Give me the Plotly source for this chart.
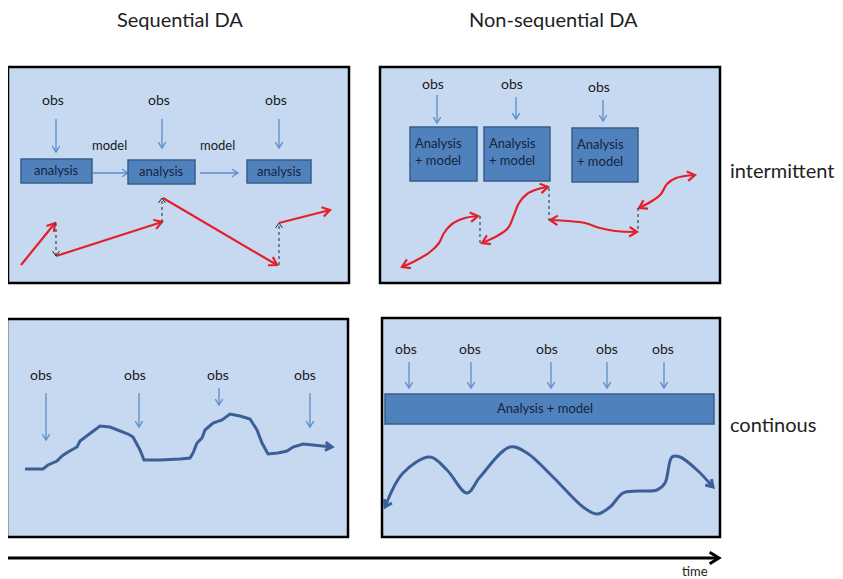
import plotly.graph_objects as go
import math

# ---------------- data (diagram coordinates, pixel space) ----------------
titles = ["Sequential DA", "Non-sequential DA"]
title_x = [180, 553]
row_labels = ["intermittent", "continous"]
row_label_y = [170, 424]

panels = [(8, 67, 349, 283), (380, 67, 720, 283), (7, 319, 348, 537), (382, 318, 720, 537)]

# panel 1 (sequential, intermittent)
p1_obs_x = [56, 162, 279]
p1_obs_text_y = 99
p1_obs_arrow = [(119, 152), (119, 148), (119, 148)]
p1_model_x = [109, 217]
p1_boxes = [(21, 159, 92, 183), (128, 160, 195, 184), (247, 160, 311, 183)]
p1_model_arrows = [(93, 128), (200, 238)]
p1_red = [((21, 265), (55, 223)), ((56, 256), (162, 222)), ((163, 198), (277, 265)), ((279, 223), (330, 210))]
p1_dash = [((56, 223), (56, 256)), ((162, 222), (162, 198)), ((279, 265), (279, 223))]

# panel 2 (non-sequential, intermittent)
p2_obs_x = [437, 516, 603]
p2_obs_text_y = [83, 83, 86]
p2_obs_arrow = [(95, 123), (97, 119), (100, 121)]
p2_boxes = [(410, 127, 477, 181), (484, 127, 550, 181), (572, 128, 638, 182)]
p2_curves_x = [
    [402, 415, 430, 439, 444, 452, 465, 478],
    [482, 497, 508, 514, 519, 527, 538, 548],
    [550, 568, 585, 600, 615, 637],
    [639, 652, 661, 667, 676, 695],
]
p2_curves_y = [
    [267, 261, 252, 243, 233, 224, 218, 216],
    [243, 236, 228, 215, 203, 194, 189, 187],
    [220, 221, 223, 228, 231, 232],
    [208, 201, 194, 184, 178, 175],
]
p2_dash_x = [480, 549, 638]
p2_dash_y = [(216, 243), (188, 220), (208, 232)]

# panel 3 (sequential, continuous)
p3_obs_x = [46, 139, 219, 310]
p3_obs_text_x = [41, 135, 218, 305]
p3_obs_arrow = [(393, 440), (393, 427), (388, 405), (393, 427)]
p3_obs_text_y = 374
p3_x = [25, 43, 48, 57, 62, 68, 77, 80, 88, 100, 110, 120, 128, 133, 136, 140, 144, 160, 180, 190,
        193, 197, 202, 205, 213, 222, 230, 240, 250, 257, 262, 268, 278, 287, 293, 303, 313, 323, 332]
p3_y = [469, 469, 465, 461, 456, 452, 447, 441, 435, 426, 427, 431, 434, 437, 443, 450, 460, 460, 459, 458,
        453, 443, 438, 430, 423, 420, 414, 416, 419, 430, 443, 454, 453, 451, 447, 444, 445, 446, 447]

# panel 4 (non-sequential, continuous)
p4_obs_x = [409, 471, 551, 607, 664]
p4_obs_text_x = [406, 470, 547, 607, 663]
p4_obs_text_y = 348
p4_obs_arrow = (362, 388)
p4_bar = (385, 394, 714, 424)
p4_x = [385, 403, 430, 447, 467, 480, 510, 527, 553, 583, 597, 610, 623, 637, 657, 665, 672, 680, 697, 713]
p4_y = [507, 473, 457, 470, 493, 477, 447, 453, 477, 507, 514, 507, 493, 491, 490, 483, 457, 457, 470, 487]

time_arrow = ((8, 558), (719, 558))

# ---------------- styles ----------------
FONT = "Lato, 'Open Sans', sans-serif"
BG = "#c6d9f1"
BOX = "#4f81bd"
BOX_LINE = "#385d8a"
OBS = "#5b8cc8"
RED = "#e3202a"
CURVE = "#3b6095"
TXT = "#1a1a1a"
BOXTXT = "#17243d"
DASH = "#222222"

fig = go.Figure()
shapes = []
ann = []

# polyline buckets: key -> (xs, ys)
buckets = {}


def add_line(key, xs, ys):
    bx, by = buckets.setdefault(key, ([], []))
    bx.extend(list(xs) + [None])
    by.extend(list(ys) + [None])


def chevron(key, xa, ya, xb, yb, length=8, angle=32):
    d = math.hypot(xb - xa, yb - ya)
    ux, uy = (xb - xa) / d, (yb - ya) / d
    a = math.radians(angle)
    pts = []
    for s in (1, -1):
        rx = ux * math.cos(s * a) - uy * math.sin(s * a)
        ry = ux * math.sin(s * a) + uy * math.cos(s * a)
        pts.append((xb - length * rx, yb - length * ry))
    add_line(key, [pts[0][0], xb, pts[1][0]], [pts[0][1], yb, pts[1][1]])


def straight_arrow(key, x0, y0, x1, y1, length=8):
    add_line(key, [x0, x1], [y0, y1])
    chevron(key, x0, y0, x1, y1, length)


def text(x, y, s, size, color=TXT, xanchor="center", align="center"):
    ann.append(dict(x=x, y=y, xref="x", yref="y", text=s, showarrow=False, xanchor=xanchor,
                    yanchor="middle", align=align, font=dict(family=FONT, size=size, color=color)))


# panels
for (x0, y0, x1, y1) in panels:
    shapes.append(dict(type="rect", x0=x0, y0=y0, x1=x1, y1=y1, xref="x", yref="y",
                       fillcolor=BG, line=dict(color="black", width=2.5), layer="below"))

# titles and row labels
for t, x in zip(titles, title_x):
    text(x, 19, t, 20, "#222222")
for t, y in zip(row_labels, row_label_y):
    text(728, y, t, 20, "#222222", xanchor="left")

# panel 1
for x, (ya, yb) in zip(p1_obs_x, p1_obs_arrow):
    text(x - 3, p1_obs_text_y, "obs", 14)
    straight_arrow("obs", x, ya, x, yb, 7)
for x in p1_model_x:
    text(x, 145, "model", 13)
for (x0, y0, x1, y1) in p1_boxes:
    shapes.append(dict(type="rect", x0=x0, y0=y0, x1=x1, y1=y1, xref="x", yref="y",
                       fillcolor=BOX, line=dict(color=BOX_LINE, width=1.5)))
    text((x0 + x1) / 2, (y0 + y1) / 2 - 1, "analysis", 13, BOXTXT)
for (xa, xb) in p1_model_arrows:
    straight_arrow("obs", xa, 173, xb, 173, 7)
for (xa, ya), (xb, yb) in p1_dash:
    shapes.append(dict(type="line", x0=xa, y0=ya, x1=xb, y1=yb, xref="x", yref="y",
                       line=dict(color=DASH, width=1, dash="dot")))
    chevron("dash", xa, ya, xb, yb, 6, 35)
for (xa, ya), (xb, yb) in p1_red:
    straight_arrow("red", xa, ya, xb, yb, 9)

# panel 2
for x, ty, (ya, yb) in zip(p2_obs_x, p2_obs_text_y, p2_obs_arrow):
    text(x - 4, ty, "obs", 14)
    straight_arrow("obs", x, ya, x, yb, 7)
for (x0, y0, x1, y1) in p2_boxes:
    shapes.append(dict(type="rect", x0=x0, y0=y0, x1=x1, y1=y1, xref="x", yref="y",
                       fillcolor=BOX, line=dict(color=BOX_LINE, width=1.5)))
    text(x0 + 3, y0 + 24, "Analysis<br>+ model", 13, BOXTXT, xanchor="left", align="left")
for x, (ya, yb) in zip(p2_dash_x, p2_dash_y):
    shapes.append(dict(type="line", x0=x, y0=ya, x1=x, y1=yb, xref="x", yref="y",
                       line=dict(color=DASH, width=1, dash="dot")))
for xs, ys in zip(p2_curves_x, p2_curves_y):
    fig.add_trace(go.Scatter(x=xs, y=ys, mode="lines", line=dict(color=RED, width=2.2, shape="spline"),
                             hoverinfo="skip", showlegend=False))
    chevron("red", xs[-2], ys[-2], xs[-1], ys[-1], 9)
    chevron("red", xs[1], ys[1], xs[0], ys[0], 9)

# panel 3
for x, tx, (ya, yb) in zip(p3_obs_x, p3_obs_text_x, p3_obs_arrow):
    text(tx, p3_obs_text_y, "obs", 14)
    straight_arrow("obs", x, ya, x, yb, 7)
fig.add_trace(go.Scatter(x=p3_x, y=p3_y, mode="lines", line=dict(color=CURVE, width=3),
                         hoverinfo="skip", showlegend=False))
chevron("curve", p3_x[-3], p3_y[-3], p3_x[-1], p3_y[-1], 8)

# panel 4
for x, tx in zip(p4_obs_x, p4_obs_text_x):
    text(tx, p4_obs_text_y, "obs", 14)
    straight_arrow("obs", x, p4_obs_arrow[0], x, p4_obs_arrow[1], 7)
bx0, by0, bx1, by1 = p4_bar
shapes.append(dict(type="rect", x0=bx0, y0=by0, x1=bx1, y1=by1, xref="x", yref="y",
                   fillcolor=BOX, line=dict(color=BOX_LINE, width=1.5)))
text(545, 408, "Analysis + model", 13, BOXTXT)
fig.add_trace(go.Scatter(x=p4_x, y=p4_y, mode="lines", line=dict(color=CURVE, width=3, shape="spline"),
                         hoverinfo="skip", showlegend=False))
chevron("curve", p4_x[-2], p4_y[-2], p4_x[-1], p4_y[-1], 8)
chevron("curve", p4_x[1], p4_y[1], p4_x[0], p4_y[0], 8)

# time arrow
(tx0, ty0), (tx1, ty1) = time_arrow
straight_arrow("time", tx0, ty0, tx1, ty1, 11)
text(695, 571, "time", 13)

styles = {"obs": (OBS, 1.3), "red": (RED, 2.2), "dash": (DASH, 1.0), "curve": (CURVE, 3), "time": ("black", 3)}
for key, (xs, ys) in buckets.items():
    col, w = styles[key]
    fig.add_trace(go.Scatter(x=xs, y=ys, mode="lines", line=dict(color=col, width=w),
                             hoverinfo="skip", showlegend=False, connectgaps=False))

# The page body has an 8px margin, so the figure is 16px smaller and its ranges start at 8,
# which keeps diagram coordinates equal to window pixels.
fig.update_layout(
    width=835, height=571, margin=dict(l=0, r=0, t=0, b=0),
    paper_bgcolor="white", plot_bgcolor="white",
    xaxis=dict(range=[8, 843], visible=False, fixedrange=True),
    yaxis=dict(range=[579, 8], visible=False, fixedrange=True),
    shapes=shapes, annotations=ann, showlegend=False,
)
fig.write_html("out.html")
